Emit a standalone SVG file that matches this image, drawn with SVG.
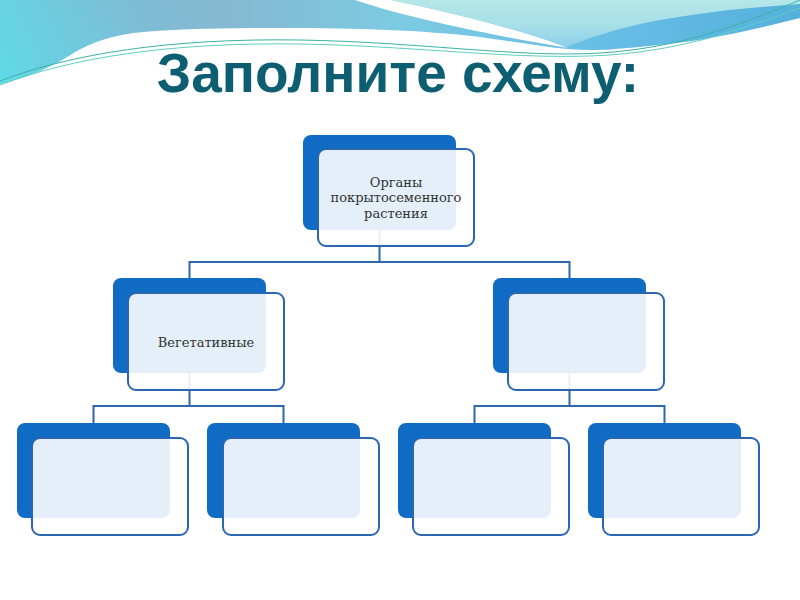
<svg xmlns="http://www.w3.org/2000/svg" width="800" height="600" viewBox="0 0 800 600">
  <defs>
    <linearGradient id="gBand" gradientUnits="userSpaceOnUse" x1="0" y1="0" x2="800" y2="0">
      <stop offset="0" stop-color="#7cbbd4"/>
      <stop offset="0.3" stop-color="#84bad2"/>
      <stop offset="0.5" stop-color="#7ccbe2"/>
      <stop offset="0.7" stop-color="#6cc0e6"/>
      <stop offset="1" stop-color="#55b0dc"/>
    </linearGradient>
    <linearGradient id="gCyan" gradientUnits="userSpaceOnUse" x1="0" y1="85" x2="170" y2="0">
      <stop offset="0" stop-color="#5edbe8" stop-opacity="1"/>
      <stop offset="0.6" stop-color="#6ccfe2" stop-opacity="0.5"/>
      <stop offset="1" stop-color="#7cbbd4" stop-opacity="0"/>
    </linearGradient>
    <linearGradient id="gWave" gradientUnits="userSpaceOnUse" x1="0" y1="0" x2="0" y2="46">
      <stop offset="0" stop-color="#b4e7e8"/>
      <stop offset="0.6" stop-color="#a6dee9"/>
      <stop offset="1" stop-color="#8ccfec"/>
    </linearGradient>
    <path id="band" d="M0,0 L800,0 L800,18 C760,28 710,40 667,44 C630,48 610,50 590,50 C560,50 530,44 480,37 C420,30 360,28 280,28 C220,28 170,29 133,33 C105,37 85,45 67,57 C45,70 25,78 0,84 Z"/>
    <style>
      .back { fill: #0f6bc4; }
      .front { fill: #ffffff; fill-opacity: 0.89; stroke: #2a66b2; stroke-width: 2; }
      .conn { fill: none; stroke: #2d67ad; stroke-width: 2; }
      .lbl { font-family: "DejaVu Serif", "Liberation Serif", serif; font-size: 13px; fill: #333333; text-anchor: middle; }
      .title { font-family: "Liberation Sans", Arial, sans-serif; font-weight: bold; font-size: 55px; fill: #0e5e72; text-anchor: middle; }
    </style>
  </defs>
  <rect width="800" height="600" fill="#ffffff"/>
  <g id="background">
    <use href="#band" fill="url(#gBand)"/>
    <use href="#band" fill="url(#gCyan)"/>
    <path d="M355,0 C390,12 460,30 568,48 C530,32 450,12 391,0 Z" fill="#ffffff"/>
    <path d="M391,0 L800,0 L800,4 C740,8 690,14 650,22 C610,30 585,40 566,47 C530,32 450,12 391,0 Z" fill="url(#gWave)"/>
    <path d="M0,81 C70,54 170,38 300,40 C420,42 520,58 600,53 C680,48 740,25 800,0" fill="none" stroke="#39b3a6" stroke-width="1"/>
    <path d="M0,85 C70,58 170,42 300,44 C420,46 520,61 610,55 C690,49 750,26 800,8" fill="none" stroke="#5fcfc0" stroke-width="1"/>
  </g>
  <text class="title" x="398" y="92">Заполните схему:</text>
  <g id="connectors">
    <path class="conn" d="M379.5,230 V262 M189.5,278 V262 H569.5 V278"/>
    <path class="conn" d="M189.5,373 V406 M93.5,423 V406 H283.5 V423"/>
    <path class="conn" d="M569.5,373 V406 M474.5,423 V406 H664.5 V423"/>
  </g>
  <g id="node-root">
    <rect class="back" x="303" y="135" width="153" height="95" rx="8"/>
    <rect class="front" x="318" y="149" width="156" height="97" rx="8"/>
    <text class="lbl" x="396" y="187">Органы</text>
    <text class="lbl" x="396" y="202">покрытосеменного</text>
    <text class="lbl" x="396" y="218">растения</text>
  </g>
  <g id="node-vegetative">
    <rect class="back" x="113" y="278" width="153" height="95" rx="8"/>
    <rect class="front" x="128" y="293" width="156" height="97" rx="8"/>
    <text class="lbl" x="206" y="347">Вегетативные</text>
  </g>
  <g id="node-right">
    <rect class="back" x="493" y="278" width="153" height="95" rx="8"/>
    <rect class="front" x="508" y="293" width="156" height="97" rx="8"/>
  </g>
  <g id="node-l1">
    <rect class="back" x="17" y="423" width="153" height="95" rx="8"/>
    <rect class="front" x="32" y="438" width="156" height="97" rx="8"/>
  </g>
  <g id="node-l2">
    <rect class="back" x="207" y="423" width="153" height="95" rx="8"/>
    <rect class="front" x="223" y="438" width="156" height="97" rx="8"/>
  </g>
  <g id="node-r1">
    <rect class="back" x="398" y="423" width="153" height="95" rx="8"/>
    <rect class="front" x="413" y="438" width="156" height="97" rx="8"/>
  </g>
  <g id="node-r2">
    <rect class="back" x="588" y="423" width="153" height="95" rx="8"/>
    <rect class="front" x="603" y="438" width="156" height="97" rx="8"/>
  </g>
</svg>
